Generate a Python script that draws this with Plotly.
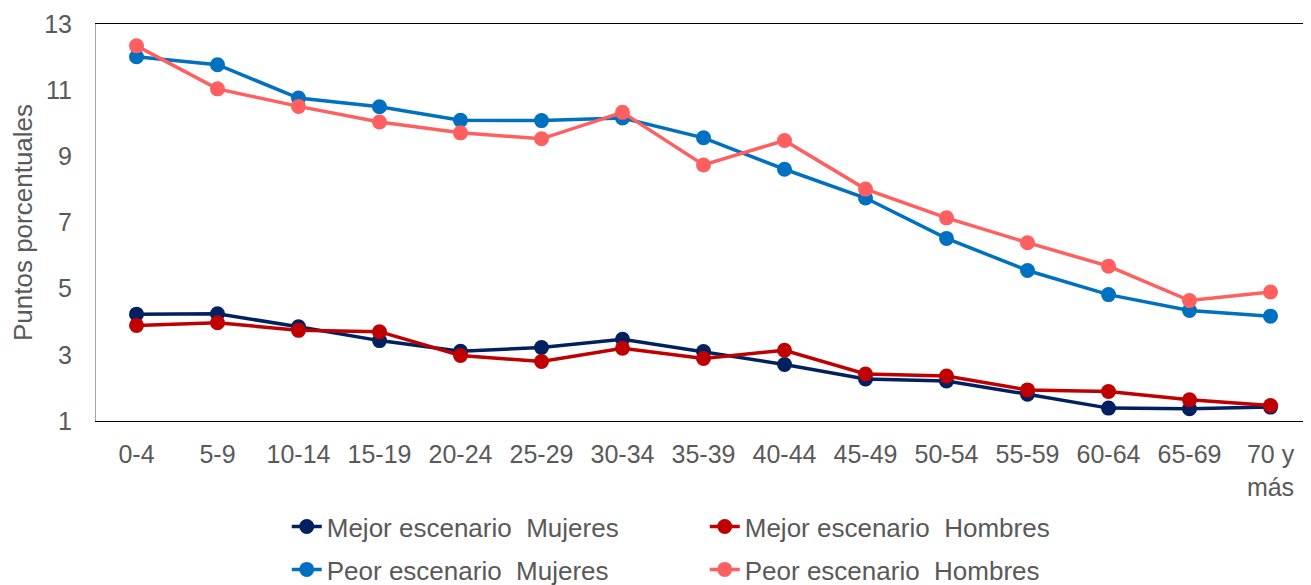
"""Puntos porcentuales por grupo de edad: mejor y peor escenario."""
import plotly.graph_objects as go

grupos = ["0-4", "5-9", "10-14", "15-19", "20-24", "25-29", "30-34", "35-39",
          "40-44", "45-49", "50-54", "55-59", "60-64", "65-69", "70 y<br>más"]

mejor_mujeres = [4.23, 4.24, 3.85, 3.43, 3.11, 3.22, 3.47, 3.10, 2.71, 2.27,
                 2.21, 1.81, 1.39, 1.37, 1.42]
mejor_hombres = [3.89, 3.97, 3.74, 3.70, 2.98, 2.80, 3.20, 2.89, 3.14, 2.42,
                 2.36, 1.94, 1.89, 1.64, 1.47]
peor_mujeres = [12.01, 11.77, 10.76, 10.50, 10.09, 10.08, 10.16, 9.56, 8.61, 7.74,
                6.52, 5.55, 4.82, 4.34, 4.17]
peor_hombres = [12.34, 11.04, 10.51, 10.04, 9.71, 9.53, 10.33, 8.74, 9.48, 8.01,
                7.14, 6.39, 5.68, 4.64, 4.90]

# (name, values, colour, legend) - one legend per row so the row gap can be set
series = [
    ("Mejor escenario  Mujeres", mejor_mujeres, "#002060", "legend"),
    ("Mejor escenario  Hombres", mejor_hombres, "#C00000", "legend"),
    ("Peor escenario  Mujeres", peor_mujeres, "#0070C0", "legend2"),
    ("Peor escenario  Hombres", peor_hombres, "#FF5F5F", "legend2"),
]

FONT = "Liberation Sans, Arial, sans-serif"
GRAY = "#595959"

fig = go.Figure()
for name, values, color, legend in series:
    fig.add_trace(
        go.Scatter(
            x=grupos,
            y=values,
            name=name,
            legend=legend,
            mode="lines+markers",
            line=dict(color=color, width=3.5),
            marker=dict(color=color, size=15),
        )
    )

legend_style = dict(
    orientation="h",
    x=0.157,
    xanchor="left",
    yanchor="middle",
    entrywidth=373,
    font=dict(size=26, color=GRAY),
    bgcolor="rgba(0,0,0,0)",
)

# page body has an 8px margin, so the figure is offset by that amount
fig.update_layout(
    width=1303,
    height=585,
    margin={"l": 88, "r": 0, "t": 16, "b": 168},
    paper_bgcolor="white",
    plot_bgcolor="white",
    font=dict(family=FONT, size=25, color=GRAY),
    showlegend=True,
    legend=dict(legend_style, y=-0.266),
    legend2=dict(legend_style, y=-0.375),
    xaxis=dict(
        range=[-0.5, len(grupos) - 0.5],
        showline=True,
        linecolor="black",
        linewidth=1,
        mirror=True,
        showgrid=False,
        ticks="",
        ticklabelstandoff=11,
        tickfont=dict(size=25, color=GRAY),
    ),
    yaxis=dict(
        range=[1, 13],
        dtick=2,
        tick0=1,
        showline=True,
        linecolor="#A6A6A6",
        linewidth=1,
        showgrid=False,
        zeroline=False,
        ticks="",
        ticklabelstandoff=18,
        tickfont=dict(size=25, color=GRAY),
        title=dict(text="Puntos porcentuales", font=dict(size=26, color=GRAY), standoff=12),
    ),
)

fig.write_html("out.html")
